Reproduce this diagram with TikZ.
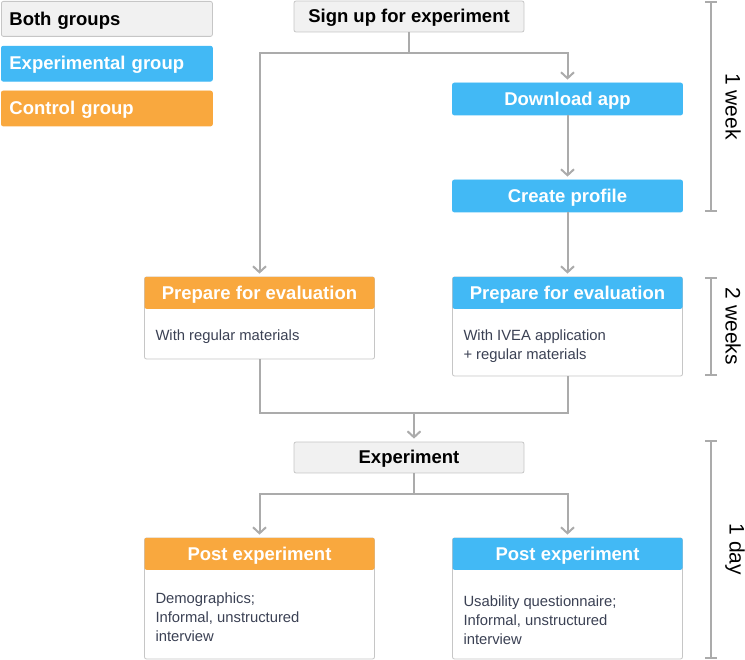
\documentclass[tikz,border=0pt]{standalone}
\usepackage{fontspec}
\setmainfont{Liberation Sans}
\usetikzlibrary{positioning}
\usetikzlibrary{arrows.meta}

\definecolor{expblue}{HTML}{42B9F5}
\definecolor{ctrlorange}{HTML}{F9A83E}
\definecolor{bothgray}{HTML}{F1F1F1}
\definecolor{edgegray}{HTML}{C6C6C6}
\definecolor{linegray}{HTML}{ABABAB}
\definecolor{bodyink}{HTML}{3B4154}

\begin{document}
\begin{tikzpicture}[x=1pt,y=-1pt,
    headfont/.style={font=\bfseries\fontsize{18.5}{20}\selectfont, text height=16.5pt, text depth=4pt},
    legend/.style={headfont, draw=edgegray, line width=0.8pt, rounded corners=2pt,
      text width=195pt, inner xsep=8pt, minimum height=35pt, align=left},
    stepbox/.style={headfont, draw=edgegray, line width=0.8pt, rounded corners=2pt,
      minimum height=31pt, minimum width=230pt},
    card/.style={draw=edgegray, fill=white, line width=0.8pt, rounded corners=2pt, minimum width=230pt},
    cardhead/.style={headfont, text=white, rounded corners=2pt, minimum height=32pt, minimum width=230pt},
    cardtext/.style={font=\fontsize{14.8}{19}\selectfont, text=bodyink, align=left, inner sep=0pt},
    conn/.style={draw=linegray, line width=2pt},
    arr/.style={conn, -{Straight Barb[length=6pt,width=13pt]}, shorten >=3pt},
    span/.style={draw=linegray, line width=2pt, {Bar[width=12pt]}-{Bar[width=12pt]}},
    spantext/.style={font=\fontsize{21}{22}\selectfont, rotate=-90}]

  \useasboundingbox (0,0) rectangle (745,660);

  % legend
  \node[legend, fill=bothgray, text=black, anchor=north west] (both) at (1,1) {Both groups};
  \node[legend, fill=expblue, draw=expblue, text=white, below=9pt of both] (expgroup) {Experimental group};
  \node[legend, fill=ctrlorange, draw=ctrlorange, text=white, below=9pt of expgroup] (ctrlgroup) {Control group};

  % steps
  \node[stepbox, fill=bothgray] (signup) at (409,16.5) {Sign up for experiment};
  \node[stepbox, fill=expblue, draw=expblue, text=white, minimum height=32pt] (download) at (567.5,99) {Download app};
  \node[stepbox, fill=expblue, draw=expblue, text=white, minimum height=32pt] (profile) at (567.5,196) {Create profile};

  \node[card, minimum height=82pt] (prepctrl) at (259.5,318) {};
  \node[cardhead, fill=ctrlorange, anchor=north] (prepctrlhead) at (prepctrl.north) {Prepare for evaluation};
  \node[cardtext, below right=21pt and 11pt of prepctrlhead.south west] (prepctrltext) {With regular materials};

  \node[card, minimum height=99pt] (prepexp) at (567.5,326.5) {};
  \node[cardhead, fill=expblue, anchor=north] (prepexphead) at (prepexp.north) {Prepare for evaluation};
  \node[cardtext, below right=21pt and 11pt of prepexphead.south west] (prepexptext) {With IVEA application\\+ regular materials};

  \node[stepbox, fill=bothgray] (experiment) at (409,457.5) {Experiment};

  \node[card, minimum height=121pt] (postctrl) at (259.5,598.5) {};
  \node[cardhead, fill=ctrlorange, anchor=north] (postctrlhead) at (postctrl.north) {Post experiment};
  \node[cardtext, below right=23pt and 11pt of postctrlhead.south west] (postctrltext) {Demographics;\\Informal, unstructured\\interview};

  \node[card, minimum height=121pt] (postexp) at (567.5,598.5) {};
  \node[cardhead, fill=expblue, anchor=north] (postexphead) at (postexp.north) {Post experiment};
  \node[cardtext, below right=26pt and 11pt of postexphead.south west] (postexptext) {Usability questionnaire;\\Informal, unstructured\\interview};

  % connectors
  \coordinate (fork) at (409,53);
  \coordinate (merge) at (414,413);
  \coordinate (split) at (414,494);

  \draw[conn] (signup.south) -- (fork);
  \draw[arr] (fork) -| (prepctrlhead.north);
  \draw[arr] (fork) -| (download.north);
  \draw[arr] (download) -- (profile);
  \draw[arr] (profile) -- (prepexphead);
  \draw[conn] (prepctrl.south) |- (merge);
  \draw[conn] (prepexp.south) |- (merge);
  \draw[arr] (merge) -- (merge |- experiment.north);
  \draw[conn] (split |- experiment.south) -- (split);
  \draw[arr] (split) -| (postctrlhead.north);
  \draw[arr] (split) -| (postexphead.north);

  % durations
  \draw[span] (711,1) -- (711,212) node[spantext, midway, anchor=south, yshift=10pt] {1 week};
  \draw[span] (711,277) -- (711,376) node[spantext, midway, anchor=south, yshift=10pt] {2 weeks};
  \draw[span] (711,440) -- (711,659) node[spantext, midway, anchor=south, yshift=10pt] {1 day};
\end{tikzpicture}
\end{document}
